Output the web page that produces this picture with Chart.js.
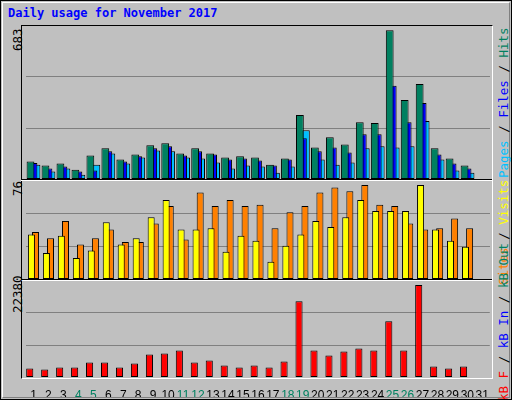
<!DOCTYPE html>
<html><head><meta charset="utf-8">
<script src="https://cdn.jsdelivr.net/npm/chart.js@4"></script>
<style>
body{margin:0;background:#fff}
#wrap{position:absolute;left:0;top:0;width:510px;height:398px;background:#c0c0c0;border:1px solid #000;overflow:hidden;font-family:"DejaVu Sans Mono",monospace}
#inner{position:absolute;left:1px;top:1px;width:506px;height:394px;border-top:1px solid #fff;border-left:1px solid #fff;border-right:1px solid #808080;border-bottom:1px solid #808080}
#title{position:absolute;left:7px;top:5px;font-weight:bold;font-size:12px;color:#0000ff}
#frame{position:absolute;left:20px;top:24px;width:470px;height:352px;border-top:1px solid #000;border-left:1px solid #000;border-right:1px solid #fff;border-bottom:1px solid #fff}
.sep{position:absolute;left:20px;width:471px;height:1px}
canvas{position:absolute}
.rot{position:absolute;transform-origin:0 0;transform:rotate(-90deg);white-space:nowrap;font-size:12.5px}
</style></head><body>
<div id="wrap"><div id="inner"></div>
<div id="title">Daily usage for November 2017</div>
<div id="frame"></div>
<div class="sep" style="top:178px;background:#000"></div>
<div class="sep" style="top:179px;background:#fff"></div>
<div class="sep" style="top:278px;background:#000"></div>
<div class="sep" style="top:279px;background:#fff"></div>
<div class="rot" style="left:9px;top:50px">683</div>
<div class="rot" style="left:9px;top:195px">76</div>
<div class="rot" style="left:9px;top:312px">22380</div>
<div class="rot" style="left:495px;top:177px"><span style="color:#00c0ff">Pages</span> / <span style="color:#0000ff">Files</span> / <span style="color:#008060">Hits</span></div>
<div class="rot" style="left:495px;top:284px"><span style="color:#ff8000">Sites</span> / <span style="color:#ffff00">Visits</span></div>
<div class="rot" style="left:495px;top:400px"><span style="color:#ff0000">kB F</span> / <span style="color:#0000ff">kB In</span> / <span style="color:#008060">kB Out</span></div>
<canvas id="c1" style="left:20px;top:25px;width:471px;height:153px"></canvas>
<canvas id="c2" style="left:20px;top:180px;width:471px;height:98px"></canvas>
<canvas id="c3" style="left:20px;top:280px;width:471px;height:116px"></canvas>
</div>
<script>
const days=[];for(let i=1;i<=31;i++)days.push(String(i));
const weekendDays=[4,5,11,12,18,19,25,26];
const hits=[80,62,71,43,108,141,90,113,155,164,117,141,117,99,104,99,66,94,294,145,192,159,261,257,683,363,437,141,94,62,0];
const files=[74,48,57,34,39,127,80,104,141,150,108,127,113,90,94,85,62,90,187,127,145,122,206,206,428,261,349,113,71,48,0];
const pages=[66,34,48,20,66,117,71,99,131,127,99,94,76,48,62,57,29,57,224,90,66,76,141,150,145,150,266,90,39,29,0];
const visits=[36,21,35,17,23,46,28,33,50,64,40,40,41,22,35,31,14,27,36,47,42,50,64,55,55,55,76,40,31,26,0];
const sites=[38,33,47,28,33,40,30,30,45,59,32,70,59,64,59,60,41,54,59,70,74,71,76,60,59,45,40,41,49,41,0];
const kbytes=[2042,1797,2287,2287,3512,3512,2287,3267,5473,5718,6453,3512,4002,2777,2287,2777,2287,3757,18460,6453,5228,6208,6943,6453,13559,6453,22380,2532,2042,2532,0];

Chart.defaults.animation=false;
function opts(max,showX){
  const x={display:showX,grid:{display:false},border:{display:false},
         ticks:{autoSkip:false,maxRotation:0,font:{size:12,family:"Liberation Sans"},color:c=>weekendDays.includes(c.index+1)?'#008060':'#000',padding:3}};
  if(showX)x.afterFit=s=>{s.height=20};
  return {responsive:false,maintainAspectRatio:false,devicePixelRatio:1,
    layout:{padding:{left:5,right:2,top:0,bottom:0}},
    plugins:{legend:{display:false},tooltip:{enabled:false}},
    scales:{
      x:x,
      y:{min:0,max:max,display:true,border:{display:false},grid:{color:'#808080',drawTicks:false,lineWidth:c=>(c.tick.value>0&&c.tick.value<max-1)?1:0},
         ticks:{display:false,stepSize:max/3},afterFit:s=>{s.width=0}}
    }};
}
function ds(data,color,bp,cp){return {data,backgroundColor:color,borderColor:'#000',borderWidth:1,borderSkipped:false,barPercentage:bp,categoryPercentage:cp};}
function mk(id,w,h,cfg){const c=document.getElementById(id);c.width=w;c.height=h;return new Chart(c,cfg);}
mk('c1',471,153,{type:'bar',data:{labels:days,datasets:[
  ds(hits,'#008060',2.6,0.6),ds(files,'#0000ff',2.6,0.6),ds(pages,'#00c0ff',2.6,0.6)]},options:opts(703,false)});
mk('c2',471,98,{type:'bar',data:{labels:days,datasets:[
  ds(visits,'#ffff00',1.7,0.55),ds(sites,'#ff8000',1.7,0.55)]},options:opts(79.3,false)});
mk('c3',471,116,{type:'bar',data:{labels:days,datasets:[
  ds(kbytes,'#ff0000',0.95,1),{data:[],barPercentage:0.95,categoryPercentage:1}]},options:opts(23360,true)});
</script>
</body></html>
